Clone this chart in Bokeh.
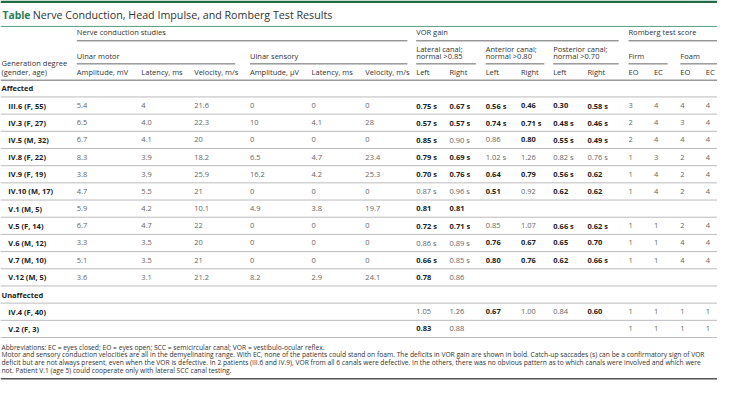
from bokeh.plotting import figure
from bokeh.models import ColumnDataSource, Range1d
from bokeh.core.properties import value
from bokeh.embed import file_html
from bokeh.resources import INLINE

# ---------------- data ----------------
title_lead = "Table"
title_rest = "Nerve Conduction, Head Impulse, and Romberg Test Results"

groups = ["Affected"] * 11 + ["Unaffected"] * 2
row_labels = ["III.6 (F, 55)", "IV.3 (F, 27)", "IV.5 (M, 32)", "IV.8 (F, 22)", "IV.9 (F, 19)",
              "IV.10 (M, 17)", "V.1 (M, 5)", "V.5 (F, 14)", "V.6 (M, 12)", "V.7 (M, 10)",
              "V.12 (M, 5)", "IV.4 (F, 40)", "V.2 (F, 3)"]

motor_amp = ["5.4", "6.5", "6.7", "8.3", "3.8", "4.7", "5.9", "6.7", "3.3", "5.1", "3.6", "", ""]
motor_lat = ["4", "4.0", "4.1", "3.9", "3.9", "5.5", "4.2", "4.7", "3.5", "3.5", "3.1", "", ""]
motor_vel = ["21.6", "22.3", "20", "18.2", "25.9", "21", "10.1", "22", "20", "21", "21.2", "", ""]
sens_amp = ["0", "10", "0", "6.5", "16.2", "0", "4.9", "0", "0", "0", "8.2", "", ""]
sens_lat = ["0", "4.1", "0", "4.7", "4.2", "0", "3.8", "0", "0", "0", "2.9", "", ""]
sens_vel = ["0", "28", "0", "23.4", "25.3", "0", "19.7", "0", "0", "0", "24.1", "", ""]

lat_left = ["0.75 s", "0.57 s", "0.85 s", "0.79 s", "0.70 s", "0.87 s", "0.81", "0.72 s", "0.86 s", "0.66 s", "0.78", "1.05", "0.83"]
lat_left_bold = [1, 1, 1, 1, 1, 0, 1, 1, 0, 1, 1, 0, 1]
lat_right = ["0.67 s", "0.57 s", "0.90 s", "0.69 s", "0.76 s", "0.96 s", "0.81", "0.71 s", "0.89 s", "0.85 s", "0.86", "1.26", "0.88"]
lat_right_bold = [1, 1, 0, 1, 1, 0, 1, 1, 0, 0, 0, 0, 0]
ant_left = ["0.56 s", "0.74 s", "0.86", "1.02 s", "0.64", "0.51", "", "0.85", "0.76", "0.80", "", "0.67", ""]
ant_left_bold = [1, 1, 0, 0, 1, 1, 0, 0, 1, 1, 0, 1, 0]
ant_right = ["0.46", "0.71 s", "0.80", "1.26", "0.79", "0.92", "", "1.07", "0.67", "0.76", "", "1.00", ""]
ant_right_bold = [1, 1, 1, 0, 1, 0, 0, 0, 1, 1, 0, 0, 0]
post_left = ["0.30", "0.48 s", "0.55 s", "0.82 s", "0.56 s", "0.62", "", "0.66 s", "0.65", "0.62", "", "0.84", ""]
post_left_bold = [1, 1, 1, 0, 1, 1, 0, 1, 1, 1, 0, 0, 0]
post_right = ["0.58 s", "0.46 s", "0.49 s", "0.76 s", "0.62", "0.62", "", "0.62 s", "0.70", "0.66 s", "", "0.60", ""]
post_right_bold = [1, 1, 1, 0, 1, 1, 0, 1, 1, 1, 0, 1, 0]

firm_eo = ["3", "2", "2", "1", "1", "1", "", "1", "1", "1", "", "1", "1"]
firm_ec = ["4", "4", "4", "3", "4", "4", "", "1", "1", "1", "", "1", "1"]
foam_eo = ["4", "3", "4", "2", "2", "2", "", "2", "4", "4", "", "1", "1"]
foam_ec = ["4", "4", "4", "4", "4", "4", "", "4", "4", "4", "", "1", "1"]

col_headers = ["Amplitude, mV", "Latency, ms", "Velocity, m/s", "Amplitude, \u03bcV", "Latency, ms",
               "Velocity, m/s", "Left", "Right", "Left", "Right", "Left", "Right", "EO", "EC", "EO", "EC"]

footnotes = [
    "Abbreviations: EC = eyes closed; EO = eyes open; SCC = semicircular canal; VOR = vestibulo-ocular reflex.",
    "Motor and sensory conduction velocities are all in the demyelinating range. With EC, none of the patients could stand on foam. The deficits in VOR gain are shown in bold. Catch-up saccades (s) can be a confirmatory sign of VOR",
    "deficit but are not always present, even when the VOR is defective. In 2 patients (III.6 and IV.9), VOR from all 6 canals were defective. In the others, there was no obvious pattern as to which canals were involved and which were",
    "not. Patient V.1 (age 5) could cooperate only with lateral SCC canal testing.",
]

# ---------------- layout (reference pixel coordinates) ----------------
W, H = 733, 400
FONT = value("Open Sans")
FS = "7.5px"
col_x = [78, 144, 198, 255, 318, 373, 425, 459, 496, 532, 565, 600, 642, 668, 695, 721]

p = figure(width=717, height=384, x_range=Range1d(0, W), y_range=Range1d(H, 0),
           output_backend="svg", toolbar_location=None, min_border=0)
p.axis.visible = False
p.grid.visible = False
p.outline_line_color = None
p.background_fill_color = "white"
p.border_fill_color = "white"


def txt(xs, ys, ts, size=FS, color="#444444", style="normal", align="left"):
    src = ColumnDataSource(dict(x=xs, y=ys, t=ts))
    p.text(x="x", y="y", text="t", source=src, text_font=FONT, text_font_size=size,
           text_color=color, text_font_style=style, text_baseline="middle", text_align=align)


def hlines(x0, x1, ys, color="#bbbbbb", width=1.0):
    p.segment(x0=x0, x1=x1, y0=ys, y1=ys, line_color=color, line_width=width)


# top bar and title
p.quad(left=[0], right=[W], top=[0], bottom=[2.5], fill_color="#236b45", line_color=None)
txt([2], [15], [title_lead], size="10.3px", color="#2e7d55", style="bold")
txt([33], [15], [title_rest], size="10.7px", color="#333333")
hlines([0], [W], [27], color="#5a9d80", width=1)

# group headers
hdr_color = "#333333"
txt([78, 425, 642], [33, 33, 33], ["Nerve conduction studies", "VOR gain", "Romberg test score"],
    color=hdr_color)
hlines([78, 425, 642], [416, 632, W], [42, 42, 42], color="#666666", width=1)
txt([78, 255, 642, 695], [58, 58, 58, 58], ["Ulnar motor", "Ulnar sensory", "Firm", "Foam"], color=hdr_color)
txt([425, 496, 565], [50, 50, 50], ["Lateral canal;", "Anterior canal;", "Posterior canal;"], color=hdr_color)
txt([425, 496, 565], [58, 58, 58], ["normal >0.85", "normal >0.80", "normal >0.70"], color=hdr_color)
hlines([78, 255, 425, 496, 565, 642, 695], [240, 416, 486, 556, 632, 682, W], [66] * 7,
       color="#666666", width=1)
txt([1, 1], [65, 74], ["Generation degree", "(gender, age)"], color=hdr_color)
txt(col_x, [74] * len(col_x), col_headers, color=hdr_color)
hlines([0], [W], [83], color="#999999", width=1.6)

# body rows
PITCH = 17.9
Y0 = 91.5
slot_y = []
sec_y, sec_t = [], []
k = 0
prev = None
for g in groups:
    if g != prev:
        sec_y.append(Y0 + PITCH * k)
        sec_t.append(g)
        k += 1
        prev = g
    slot_y.append(Y0 + PITCH * k)
    k += 1
n_slots = k

txt([1] * len(sec_t), sec_y, sec_t, color="#222222", style="bold")
txt([8] * len(row_labels), slot_y, row_labels, color="#222222", style="bold")

VAL = "#666666"
plain_cols = [motor_amp, motor_lat, motor_vel, sens_amp, sens_lat, sens_vel]
for ci, col in enumerate(plain_cols):
    txt([col_x[ci]] * len(col), slot_y, col, color=VAL)

vor_cols = [(lat_left, lat_left_bold), (lat_right, lat_right_bold), (ant_left, ant_left_bold),
            (ant_right, ant_right_bold), (post_left, post_left_bold), (post_right, post_right_bold)]
for ci, (col, bold) in enumerate(vor_cols):
    xx = col_x[6 + ci]
    bx = [xx for b in bold if b]
    by = [y for y, b in zip(slot_y, bold) if b]
    bt = [t for t, b in zip(col, bold) if b]
    nx = [xx for b in bold if not b]
    ny = [y for y, b in zip(slot_y, bold) if not b]
    nt = [t for t, b in zip(col, bold) if not b]
    txt(bx, by, bt, color="#222222", style="bold")
    txt(nx, ny, nt, color=VAL)

for ci, col in enumerate([firm_eo, firm_ec, foam_eo, foam_ec]):
    txt([col_x[12 + ci]] * len(col), slot_y, col, color=VAL)

row_lines = [Y0 + PITCH * i + PITCH / 2 for i in range(n_slots)]
hlines([0] * n_slots, [W] * n_slots, row_lines, color="#bbbbbb", width=1)

# footnotes
foot_y0 = 361
txt([1] * len(footnotes), [foot_y0 + 8.0 * i for i in range(len(footnotes))], footnotes,
    size="6.7px", color="#333333")
hlines([0], [W], [394], color="#555555", width=1.5)

open("out.html", "w").write(file_html(p, INLINE))
